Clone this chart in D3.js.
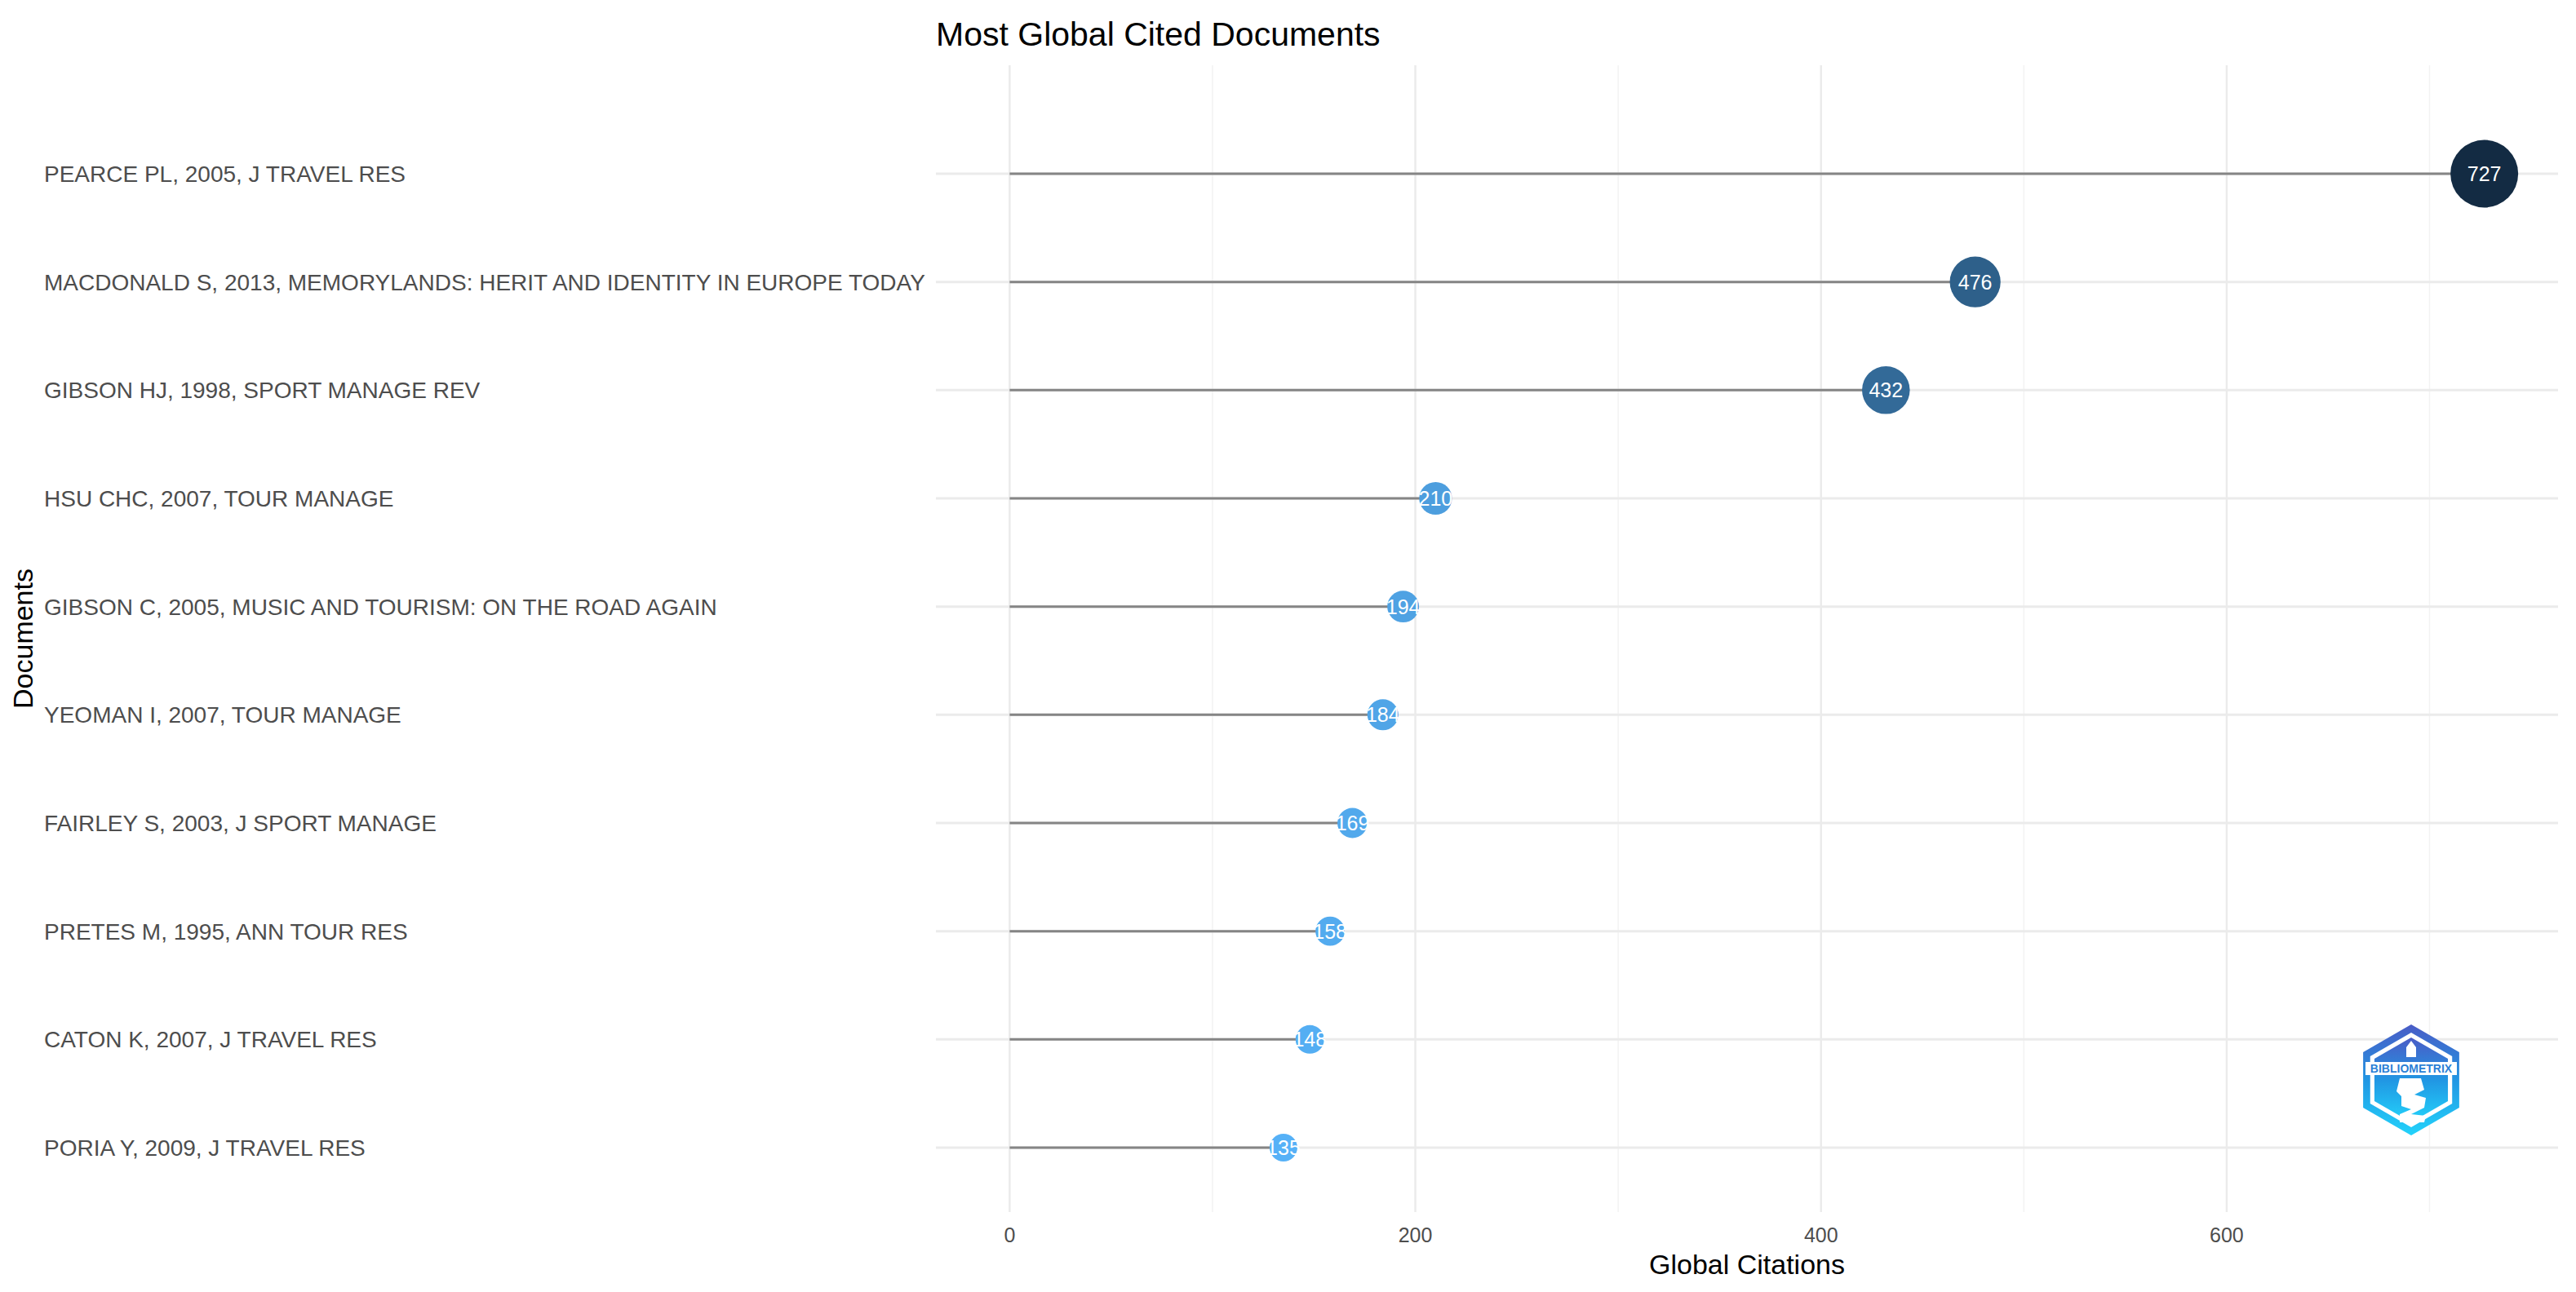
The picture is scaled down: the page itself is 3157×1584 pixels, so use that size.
<!DOCTYPE html>
<html>
<head>
<meta charset="UTF-8">
<script src="https://cdn.jsdelivr.net/npm/d3@7"></script>
<style>
body{
  margin:0;
  background-color:#fff;
}
text{
  font-family:"Liberation Sans", Arial, sans-serif;
}
</style>
</head>
<body>
<script>
// most cited documents, lollipop style

var docs = [
  "PEARCE PL, 2005, J TRAVEL RES",
  "MACDONALD S, 2013, MEMORYLANDS: HERIT AND IDENTITY IN EUROPE TODAY",
  "GIBSON HJ, 1998, SPORT MANAGE REV",
  "HSU CHC, 2007, TOUR MANAGE",
  "GIBSON C, 2005, MUSIC AND TOURISM: ON THE ROAD AGAIN",
  "YEOMAN I, 2007, TOUR MANAGE",
  "FAIRLEY S, 2003, J SPORT MANAGE",
  "PRETES M, 1995, ANN TOUR RES",
  "CATON K, 2007, J TRAVEL RES",
  "PORIA Y, 2009, J TRAVEL RES"
]
var citations = [727, 476, 432, 210, 194, 184, 169, 158, 148, 135]

var majorTicks = [0, 200, 400, 600]
var minorTicks = [100, 300, 500, 700]

var width = 3157
var height = 1584

var panel = {left: 1147, right: 3135, top: 80, bottom: 1486}

var svg = d3.select('body')
    .append('svg')
    .attr('width', width)
    .attr('height', height)

var maxC = d3.max(citations)
var pad = maxC * 0.05

var x = d3.scaleLinear()
    .domain([-pad, maxC + pad])
    .range([panel.left, panel.right])

var y = d3.scalePoint()
    .domain(docs)
    .range([213, 1407])

var r = d3.scaleLinear()
    .domain([d3.min(citations), maxC])
    .range([17, 41.5])

var color = d3.scaleLinear()
    .domain([d3.min(citations), maxC])
    .range(["#56B1F7", "#132B43"])
    .interpolate(d3.interpolateLab)

var rows = docs.map((d, i) => ({doc: d, val: citations[i]}))

// grid
svg.selectAll('.minor')
  .data(minorTicks)
  .enter().append('line')
    .attr('x1', d => x(d)).attr('x2', d => x(d))
    .attr('y1', panel.top).attr('y2', panel.bottom)
    .attr('stroke', '#f3f3f3')
    .attr('stroke-width', 1.5)

svg.selectAll('.major')
  .data(majorTicks)
  .enter().append('line')
    .attr('x1', d => x(d)).attr('x2', d => x(d))
    .attr('y1', panel.top).attr('y2', panel.bottom)
    .attr('stroke', '#ebebeb')
    .attr('stroke-width', 2.5)

svg.selectAll('.hgrid')
  .data(docs)
  .enter().append('line')
    .attr('x1', panel.left).attr('x2', panel.right)
    .attr('y1', d => y(d)).attr('y2', d => y(d))
    .attr('stroke', '#ebebeb')
    .attr('stroke-width', 3)

// stems
svg.selectAll('.stem')
  .data(rows)
  .enter().append('line')
    .attr('x1', x(0))
    .attr('x2', d => x(d.val))
    .attr('y1', d => y(d.doc))
    .attr('y2', d => y(d.doc))
    .attr('stroke', '#858585')
    .attr('stroke-width', 3)

// bubbles
svg.selectAll('.dot')
  .data(rows)
  .enter().append('circle')
    .attr('cx', d => x(d.val))
    .attr('cy', d => y(d.doc))
    .attr('r', d => r(d.val))
    .attr('fill', d => color(d.val))

svg.selectAll('.val')
  .data(rows)
  .enter().append('text')
    .attr('x', d => x(d.val))
    .attr('y', d => y(d.doc))
    .attr('dy', '0.36em')
    .attr('text-anchor', 'middle')
    .attr('font-size', 25)
    .attr('fill', 'white')
    .text(d => d.val)

// y labels, left aligned
svg.selectAll('.ylab')
  .data(docs)
  .enter().append('text')
    .attr('x', 54)
    .attr('y', d => y(d))
    .attr('dy', '0.36em')
    .attr('font-size', 28)
    .attr('fill', '#4d4d4d')
    .text(d => d)

// x tick labels
svg.selectAll('.xlab')
  .data(majorTicks)
  .enter().append('text')
    .attr('x', d => x(d))
    .attr('y', 1523)
    .attr('text-anchor', 'middle')
    .attr('font-size', 25)
    .attr('fill', '#4d4d4d')
    .text(d => d)

svg.append('text')
    .attr('x', (panel.left + panel.right) / 2)
    .attr('y', 1562)
    .attr('text-anchor', 'middle')
    .attr('font-size', 34)
    .attr('fill', 'black')
    .text('Global Citations')

svg.append('text')
    .attr('transform', 'translate(40,' + ((panel.top + panel.bottom) / 2) + ') rotate(-90)')
    .attr('text-anchor', 'middle')
    .attr('font-size', 34)
    .attr('fill', 'black')
    .text('Documents')

svg.append('text')
    .attr('x', panel.left)
    .attr('y', 56)
    .attr('font-size', 41)
    .attr('fill', 'black')
    .text('Most Global Cited Documents')

// bibliometrix logo (rough)
function hexPts(cx, cy, rad){
  let p = []
  for (let i = 0; i < 6; i++){
    let a = Math.PI / 180 * (60 * i - 90)
    p.push([cx + rad * Math.cos(a), cy + rad * Math.sin(a)])
  }
  return p.map(d => d.join(',')).join(' ')
}

var defs = svg.append('defs')
var grad = defs.append('linearGradient')
    .attr('id', 'logograd')
    .attr('x1', 0).attr('y1', 0).attr('x2', 0).attr('y2', 1)
grad.append('stop').attr('offset', '0%').attr('stop-color', '#4a5cc6')
grad.append('stop').attr('offset', '50%').attr('stop-color', '#2196e3')
grad.append('stop').attr('offset', '100%').attr('stop-color', '#23d3fb')

var lx = 2955, ly = 1324
var logo = svg.append('g')
logo.append('polygon')
    .attr('points', hexPts(lx, ly, 68))
    .attr('fill', 'url(#logograd)')
logo.append('polygon')
    .attr('points', hexPts(lx, ly, 58))
    .attr('fill', 'white')
logo.append('polygon')
    .attr('points', hexPts(lx, ly, 52))
    .attr('fill', 'url(#logograd)')
logo.append('rect')
    .attr('x', lx - 56).attr('y', ly - 22)
    .attr('width', 112).attr('height', 16)
    .attr('fill', 'white')
logo.append('text')
    .attr('x', lx).attr('y', ly - 9)
    .attr('text-anchor', 'middle')
    .attr('font-size', 14)
    .attr('font-weight', 'bold')
    .attr('fill', '#2a7fd6')
    .text('BIBLIOMETRIX')
logo.append('path')
    .attr('d', 'M' + (lx - 6) + ',' + (ly - 40) + ' l6,-8 l6,8 l0,12 l-12,0 Z')
    .attr('fill', 'white')
logo.append('path')
    .attr('d', 'M' + (lx - 14) + ',' + (ly - 2) + ' l26,0 l4,14 l-12,6 l14,4 l-2,12 l-16,8 l18,2 l-2,8 l-30,0 l0,-10 l14,-6 l-12,-4 l0,-12 l-6,-6 Z')
    .attr('fill', 'white')
</script>
</body>
</html>
